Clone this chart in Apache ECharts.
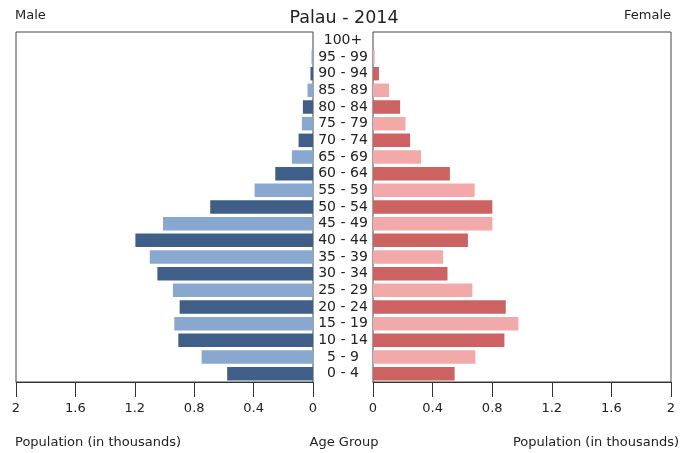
<!DOCTYPE html>
<html>
<head>
<meta charset="utf-8">
<script src="https://cdn.jsdelivr.net/npm/echarts@6/dist/echarts.min.js"></script>
<style>html,body{margin:0;padding:0;background:#fff}#c{width:688px;height:453px}</style>
</head>
<body>
<div id="c"></div>
<script>
const ageGroups = ["0 - 4","5 - 9","10 - 14","15 - 19","20 - 24","25 - 29","30 - 34","35 - 39","40 - 44","45 - 49","50 - 54","55 - 59","60 - 64","65 - 69","70 - 74","75 - 79","80 - 84","85 - 89","90 - 94","95 - 99","100+"];
const male =   [0.578,0.750,0.907,0.934,0.898,0.943,1.048,1.099,1.196,1.010,0.692,0.393,0.254,0.142,0.097,0.075,0.068,0.037,0.017,0.010,0.0];
const female = [0.548,0.687,0.882,0.976,0.891,0.667,0.500,0.471,0.637,0.801,0.801,0.682,0.516,0.323,0.249,0.218,0.182,0.108,0.040,0.011,0.0];
const xTicks = [0,0.4,0.8,1.2,1.6,2];

const FONT = 'DejaVu Sans';
const TXT = '#222';
const maleDark = '#3f5f88', maleLight = '#88a8cf';
const femDark = '#cc6262', femLight = '#f2a9a9';

const chart = echarts.init(document.getElementById('c'));
const xAxisCommon = {
  type: 'value', min: xTicks[0], max: xTicks[xTicks.length-1], interval: 0.4,
  axisLine: {show: true, lineStyle: {color: '#333', width: 1}},
  axisTick: {show: true, length: 15, lineStyle: {color: '#333'}},
  splitLine: {show: false},
  axisLabel: {fontFamily: FONT, fontSize: 13, color: TXT, margin: 20}
};
chart.setOption({
  animation: false,
  title: {text: 'Palau - 2014', left: 'center', top: 4,
    textStyle: {fontFamily: FONT, fontSize: 17.5, fontWeight: 'normal', color: TXT}},
  graphic: [
    {type: 'text', left: 15, top: 9, style: {text: 'Male', font: '13px "DejaVu Sans"', fill: TXT}},
    {type: 'text', right: 17, top: 9, style: {text: 'Female', font: '13px "DejaVu Sans"', fill: TXT}},
    {type: 'text', left: 15, top: 436, style: {text: 'Population (in thousands)', font: '13px "DejaVu Sans"', fill: TXT}},
    {type: 'text', left: 'center', top: 436, style: {text: 'Age Group', font: '13px "DejaVu Sans"', fill: TXT}},
    {type: 'text', right: 9, top: 436, style: {text: 'Population (in thousands)', font: '13px "DejaVu Sans"', fill: TXT}}
  ],
  grid: [
    {left: 16, width: 297, top: 32, bottom: 71, show: true, borderColor: '#444', borderWidth: 1, backgroundColor: 'transparent'},
    {left: 373, width: 298, top: 32, bottom: 71, show: true, borderColor: '#444', borderWidth: 1, backgroundColor: 'transparent'}
  ],
  xAxis: [
    Object.assign({}, xAxisCommon, {gridIndex: 0, inverse: true}),
    Object.assign({}, xAxisCommon, {gridIndex: 1})
  ],
  yAxis: [
    {type: 'category', gridIndex: 0, data: ageGroups, position: 'right',
      axisLine: {show: false}, axisTick: {show: false}, axisLabel: {show: false}},
    {type: 'category', gridIndex: 1, data: ageGroups, position: 'left',
      axisLine: {show: false}, axisTick: {show: false},
      axisLabel: {show: true, interval: 0, align: 'center', margin: 30, fontFamily: FONT, fontSize: 14, color: TXT}}
  ],
  series: [
    {type: 'bar', xAxisIndex: 0, yAxisIndex: 0, data: male, barCategoryGap: '19%',
      itemStyle: {color: p => p.dataIndex % 2 ? maleLight : maleDark}},
    {type: 'bar', xAxisIndex: 1, yAxisIndex: 1, data: female, barCategoryGap: '19%',
      itemStyle: {color: p => p.dataIndex % 2 ? femLight : femDark}}
  ]
});
</script>
</body>
</html>
